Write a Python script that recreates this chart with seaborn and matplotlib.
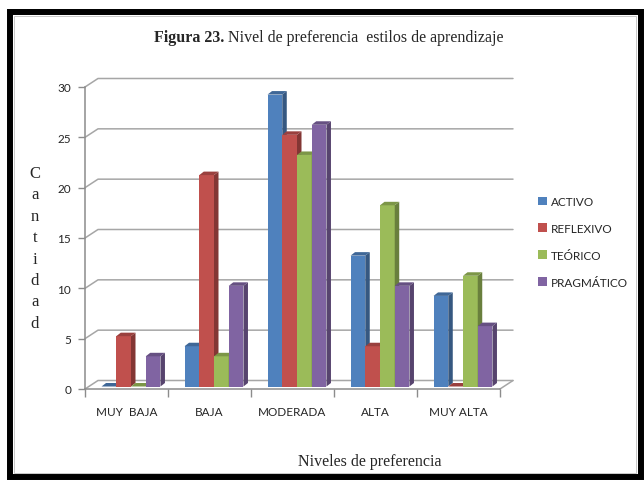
import numpy as np
import pandas as pd
import seaborn as sns
import matplotlib
matplotlib.use("Agg")
import matplotlib.pyplot as plt
from matplotlib.patches import Polygon, Rectangle, Patch
from matplotlib.lines import Line2D
import matplotlib.transforms as mtransforms

# --- data -------------------------------------------------------------
niveles = ["MUY  BAJA", "BAJA", "MODERADA", "ALTA", "MUY ALTA"]
estilos = ["ACTIVO", "REFLEXIVO", "TEÓRICO", "PRAGMÁTICO"]
activo = [0, 4, 29, 13, 9]
reflexivo = [5, 21, 25, 4, 0]
teorico = [0, 3, 23, 18, 11]
pragmatico = [3, 10, 26, 10, 6]
y_ticks = [0, 5, 10, 15, 20, 25, 30]
colores = ["#4F81BD", "#C0504D", "#9BBB59", "#8064A2"]

df = pd.DataFrame({
    "Nivel": niveles * len(estilos),
    "Estilo": np.repeat(estilos, len(niveles)),
    "Cantidad": activo + reflexivo + teorico + pragmatico,
})

W, H, DPI = 644, 481, 100
sns.set_style("white")
plt.rcParams["font.family"] = ["Lato", "DejaVu Sans"]

fig = plt.figure(figsize=(W / DPI, H / DPI), dpi=DPI)
fig.patch.set_facecolor("white")

# plot area (front plane) in pixels
left_px, right_px, bot_px, top_px = 85, 500, 390, 88
ax = fig.add_axes([left_px / W, (H - bot_px) / H,
                   (right_px - left_px) / W, (bot_px - top_px) / H])
ax.set_facecolor("none")

sns.barplot(data=df, x="Nivel", y="Cantidad", hue="Estilo", palette=colores,
            saturation=1, width=0.71, ax=ax, legend=False, errorbar=None)

ax.set_xlim(-0.5, len(niveles) - 0.5)
ax.set_ylim(0, 30)
ax.set_xlabel("")
ax.set_ylabel("")

# depth offsets (pixels)
WALL_DX, WALL_DY = 13, 8.5
BAR_SX, BAR_SY = 4.5, 2.5      # bars sit slightly behind the front plane
BAR_DX, BAR_DY = 4.5, 3.5      # depth of each bar

grid_col = "#A6A6A6"
ident = mtransforms.IdentityTransform()


def px(x, y):
    return ax.transData.transform((x, y))


# back wall + side wall grid lines
x0, x1 = -0.5, len(niveles) - 0.5
for t in y_ticks:
    fx, fy = px(x0, t)
    rx, _ = px(x1, t)
    ax.add_line(Line2D([fx, fx + WALL_DX, rx + WALL_DX], [fy, fy + WALL_DY, fy + WALL_DY],
                       transform=ident, color=grid_col, lw=1.1, clip_on=False, zorder=1))
# floor right edge
rx, ry = px(x1, 0)
ax.add_line(Line2D([rx, rx + WALL_DX], [ry, ry + WALL_DY], transform=ident,
                   color=grid_col, lw=1.1, clip_on=False, zorder=1))


def shade(c, f):
    r, g, b = matplotlib.colors.to_rgb(c)
    return (r * f, g * f, b * f)


# turn each flat bar into a 3D column
for s, cont in enumerate(ax.containers):
    col = colores[s]
    for bar in cont:
        bx0 = bar.get_x()
        bx1 = bx0 + bar.get_width()
        h = bar.get_height()
        (ax0, ay0) = px(bx0, 0)
        (ax1, ay1) = px(bx1, h)
        ax0 += BAR_SX; ax1 += BAR_SX
        ay0 += BAR_SY; ay1 += BAR_SY
        bar.set_visible(False)
        front = Polygon([(ax0, ay0), (ax1, ay0), (ax1, ay1), (ax0, ay1)], closed=True,
                        transform=ident, facecolor=col, edgecolor="none",
                        clip_on=False, zorder=3 + s)
        side = Polygon([(ax1, ay0), (ax1 + BAR_DX, ay0 + BAR_DY),
                        (ax1 + BAR_DX, ay1 + BAR_DY), (ax1, ay1)], closed=True,
                       transform=ident, facecolor=shade(col, 0.68), edgecolor="none",
                       clip_on=False, zorder=3 + s)
        top = Polygon([(ax0, ay1), (ax1, ay1), (ax1 + BAR_DX, ay1 + BAR_DY),
                       (ax0 + BAR_DX, ay1 + BAR_DY)], closed=True,
                      transform=ident, facecolor=shade(col, 0.8), edgecolor="none",
                      clip_on=False, zorder=3 + s)
        for p in (front, side, top):
            ax.add_patch(p)

# axes, ticks, labels
for sp in ("top", "right"):
    ax.spines[sp].set_visible(False)
for sp in ("left", "bottom"):
    ax.spines[sp].set_color("#8C8C8C")
    ax.spines[sp].set_linewidth(1.1)
ax.set_yticks(y_ticks)
ax.set_yticklabels([str(v) for v in y_ticks], fontsize=8.5, color="#262626")
ax.set_xticks(range(len(niveles)))
ax.set_xticklabels(niveles, fontsize=8.5, color="#262626")
ax.set_xticks(np.arange(-0.5, len(niveles), 1.0), minor=True)
ax.tick_params(axis="y", length=5, width=1, color="#8C8C8C", pad=5, left=True)
ax.tick_params(axis="x", which="major", length=0, pad=12)
ax.tick_params(axis="x", which="minor", length=6, width=1, color="#8C8C8C", bottom=True)

# vertical stacked axis title
serif = ["Liberation Serif", "DejaVu Serif"]
for i, ch in enumerate("Cantidad"):
    fig.text(35 / W, 1 - (178 + i * 21.4) / H, ch, ha="center", va="baseline",
             fontsize=12, family=serif)

fig.text(370 / W, 1 - 466 / H, "Niveles de preferencia", ha="center", va="baseline",
         fontsize=11.5, family=serif)

# title: bold figure number followed by regular text, centred as a whole
renderer = fig.canvas.get_renderer()
t1 = fig.text(0, 1 - 42 / H, "Figura 23.", ha="left", va="baseline",
              fontsize=11.5, weight="bold", family=serif)
t2 = fig.text(0, 1 - 42 / H, " Nivel de preferencia  estilos de aprendizaje",
              ha="left", va="baseline", fontsize=11.5, family=serif)
w1 = t1.get_window_extent(renderer).width
w2 = t2.get_window_extent(renderer).width
start = 329 - (w1 + w2) / 2
t1.set_x(start / W)
t2.set_x((start + w1) / W)

# legend
handles = [Patch(facecolor=c, edgecolor="none") for c in colores]
fig.legend(handles, estilos, loc="upper left", bbox_to_anchor=(538 / W, 1 - 197 / H),
           frameon=False, fontsize=8.5, handlelength=0.75, handleheight=0.75,
           handletextpad=0.35, labelspacing=1.35, borderpad=0, borderaxespad=0)

# thick black frame around the chart
fig.add_artist(Rectangle((10, 3), 630.5, 465, transform=ident, fill=False,
                         edgecolor="black", linewidth=4.3, clip_on=False))
fig.add_artist(Rectangle((14, 7), 622, 457, transform=ident, fill=False,
                         edgecolor="#BFBFBF", linewidth=0.6, clip_on=False))

fig.savefig("out.png", dpi=DPI)
